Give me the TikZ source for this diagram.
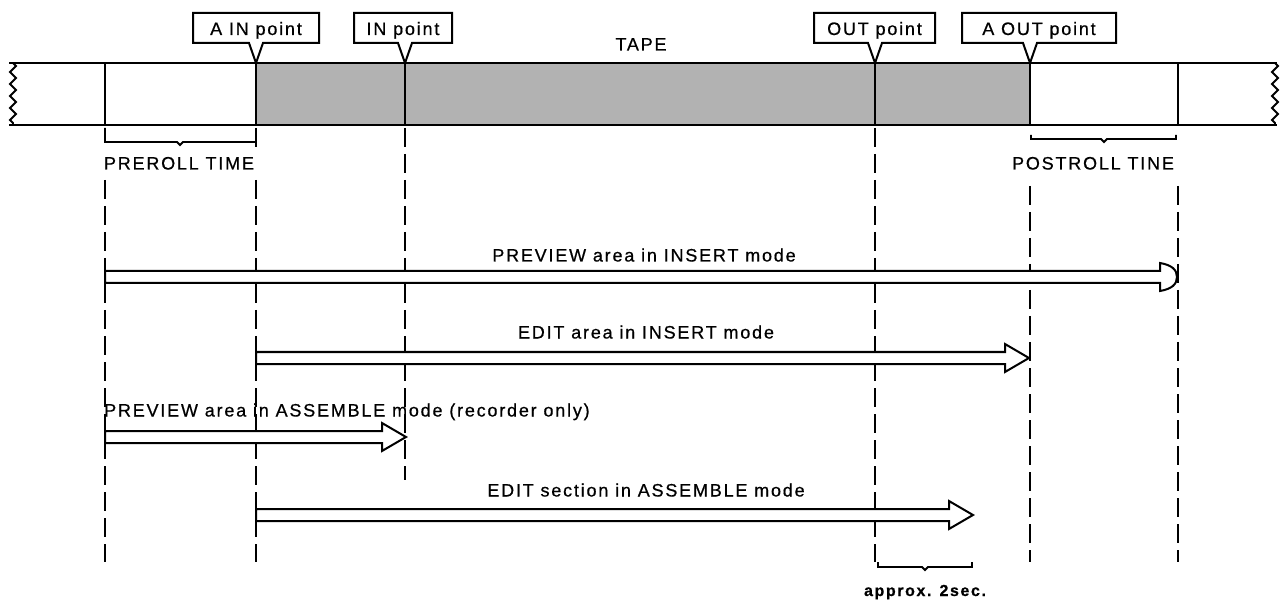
\documentclass[tikz,border=0pt]{standalone}
\usepackage{fontspec}
\setmainfont{Liberation Sans}[LetterSpace=10, FakeBold=0.6]
\usetikzlibrary{decorations.pathmorphing,calc}
\newcommand\mkcallout[5]{% name, left, right, pointer x, text
  \draw[callout] (#2,13) -- (#3,13) -- (#3,43) -- ({#4+7},43) -- (#4,63) -- ({#4-7},43) -- (#2,43) -- cycle;
  \node[lbl, anchor=base] (#1) at ({(#2+#3)/2},35) {#5};
}
\newcommand\harrow[2]{% start coord, tip coord
  \draw[hollow] let \p1=(#1), \p2=(#2) in
    (\x1,{\y1+6pt}) -- ({\x2-24pt},{\y1+6pt}) -- ({\x2-24pt},{\y1+14pt}) -- (\x2,\y1)
    -- ({\x2-24pt},{\y1-14pt}) -- ({\x2-24pt},{\y1-6pt}) -- (\x1,{\y1-6pt}) -- cycle;
}
\begin{document}
\begin{tikzpicture}[x=1pt,y=-1pt,
  tapeline/.style={line width=2.2pt},
  guide/.style={line width=1.9pt, dash pattern=on 19pt off 7pt},
  hollow/.style={draw, line width=2pt, fill=white, line join=miter},
  lbl/.style={font=\fontsize{18}{21}\selectfont, inner sep=0pt},
  callout/.style={draw, line width=2pt, fill=white, line join=miter},
  brace/.style={line width=1.8pt},
  wavy/.style={line width=1.8pt, decorate, decoration={zigzag, segment length=12pt, amplitude=3pt}}]
\useasboundingbox (0,0) rectangle (1287,601);
% tape
\fill[black!30] (256,63) rectangle (1030,125);
\draw[tapeline] (9,63) -- (1277,63);
\draw[tapeline] (9,125) -- (1277,125);
\draw[wavy] (13,63) -- (13,125);
\draw[wavy] (1275,63) -- (1275,125);
\foreach \xx in {105,256,405,875,1030,1178} \draw[tapeline] (\xx,63) -- (\xx,125);
\node[lbl, anchor=base] (tape) at (641,50.5) {TAPE};
% callouts
\mkcallout{ain}{193}{319}{256}{A IN point}
\mkcallout{in}{354}{452}{405}{IN point}
\mkcallout{out}{814}{935}{875}{OUT point}
\mkcallout{aout}{962}{1116}{1030}{A OUT point}
% braces
\draw[brace] (105,128) -- (105,142) -- (177,142) -- (180,145) -- (183,142) -- (256,142) -- (256,135);
\node[lbl, anchor=base] (pre) at (179,169.5) {PREROLL TIME};
\draw[brace] (1031,135) -- (1031,139) -- (1101,139) -- (1104,142) -- (1107,139) -- (1176,139) -- (1176,135);
\node[lbl, anchor=base] (post) at (1093,169.5) {POSTROLL TINE};
% guide lines
\draw[guide] (105,180) -- (105,562);
\draw[guide] (256,128) -- (256,152);
\draw[guide] (256,180) -- (256,562);
\draw[guide] (405,128) -- (405,480);
\draw[guide] (875,128) -- (875,562);
\draw[guide] (1030,186) -- (1030,562);
\draw[guide] (1178,186) -- (1178,562);
% arrow end points
\coordinate (a1s) at (105,277); \coordinate (a1t) at (1177,277);
\coordinate (a2s) at (256,358); \coordinate (a2t) at (1029,358);
\coordinate (a3s) at (105,437); \coordinate (a3t) at (406,437);
\coordinate (a4s) at (256,515); \coordinate (a4t) at (973,515);
% arrow 1 with rounded head
\draw[hollow] let \p1=(a1s), \p2=(a1t) in
  (\x1,{\y1+6pt}) -- ({\x2-17pt},{\y1+6pt}) -- ({\x2-17pt},{\y1+14pt})
  .. controls ({\x2-5pt},{\y1+12pt}) and (\x2,{\y1+7pt}) .. (\x2,\y1)
  .. controls (\x2,{\y1-7pt}) and ({\x2-5pt},{\y1-12pt}) .. ({\x2-17pt},{\y1-14pt})
  -- ({\x2-17pt},{\y1-6pt}) -- (\x1,{\y1-6pt}) -- cycle;
\harrow{a2s}{a2t}
\harrow{a3s}{a3t}
\harrow{a4s}{a4t}
\node[lbl, anchor=base] (t1) at (644,261.5) {PREVIEW area in INSERT mode};
\node[lbl, anchor=base] (t2) at (646,338.5) {EDIT area in INSERT mode};
\node[lbl, anchor=base west] (t3) at (104,416.5) {PREVIEW area in ASSEMBLE mode (recorder only)};
\node[lbl, anchor=base] (t4) at (646,496.5) {EDIT section in ASSEMBLE mode};
% approx bracket
\draw[brace] (878,562) -- (878,567) -- (922,567) -- (925,570) -- (928,567) -- (972,567) -- (972,562);
\node[lbl, anchor=base, font=\fontsize{16}{19}\selectfont\bfseries] (apx) at (925,596) {approx. 2sec.};
\end{tikzpicture}
\end{document}
